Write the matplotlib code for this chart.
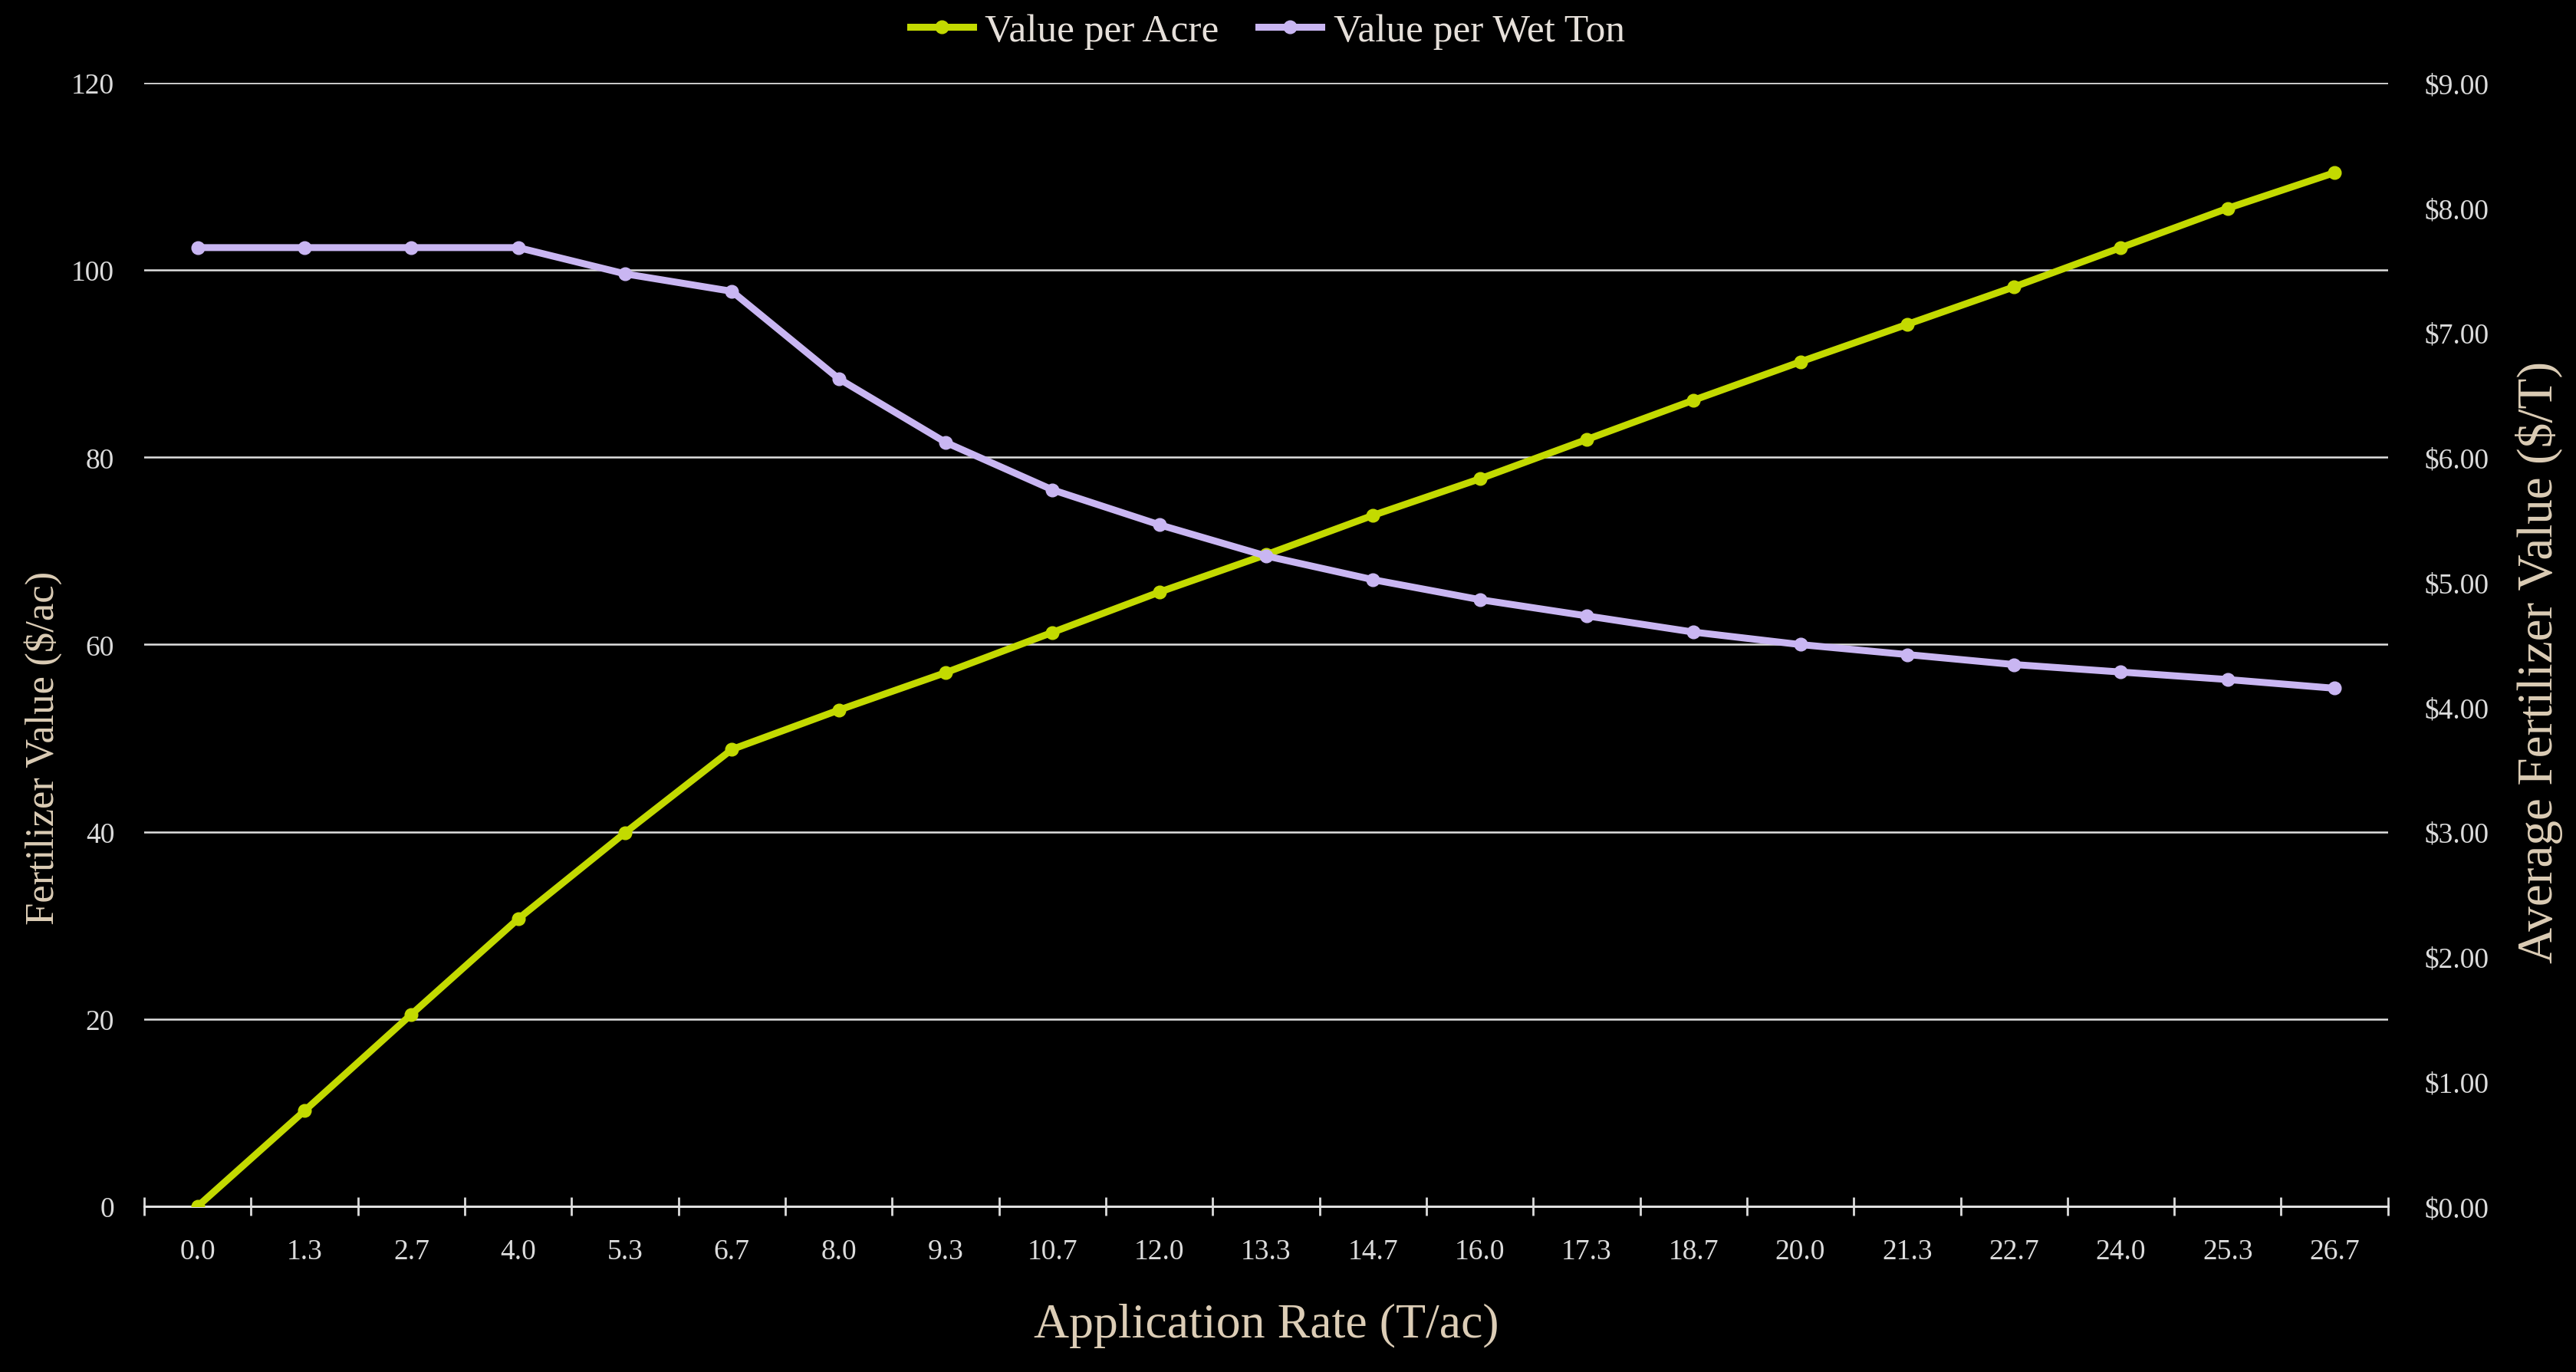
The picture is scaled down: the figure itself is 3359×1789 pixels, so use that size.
import matplotlib.pyplot as plt
import numpy as np

# application rate categories (T/ac)
rates = ['0.0', '1.3', '2.7', '4.0', '5.3', '6.7', '8.0', '9.3', '10.7', '12.0', '13.3',
         '14.7', '16.0', '17.3', '18.7', '20.0', '21.3', '22.7', '24.0', '25.3', '26.7']
# fertilizer value per acre ($/ac), left axis
value_per_acre = [0, 10.2, 20.5, 30.7, 39.9, 48.8, 53.0, 57.0, 61.3, 65.6, 69.6,
                  73.8, 77.7, 81.9, 86.1, 90.2, 94.2, 98.2, 102.4, 106.6, 110.4]
# average value per wet ton ($/T), right axis
value_per_ton = [7.68, 7.68, 7.68, 7.68, 7.47, 7.33, 6.63, 6.12, 5.74, 5.46, 5.21,
                 5.02, 4.86, 4.73, 4.60, 4.50, 4.42, 4.34, 4.28, 4.22, 4.15]

left_ticks = [0, 20, 40, 60, 80, 100, 120]
right_ticks = [0, 1, 2, 3, 4, 5, 6, 7, 8, 9]

green = '#c3da00'
purple = '#c9b6f2'
tick_col = '#dcdcdc'
title_col = '#dccdb6'
grid_col = '#e0e0e0'
font = 'Liberation Serif'

fig = plt.figure(figsize=(33.59, 17.90), dpi=100, facecolor='black')
ax = fig.add_axes([0.056, 0.1207, 0.871, 0.8184])
ax.set_facecolor('black')
ax2 = ax.twinx()

x = np.arange(len(rates))
l1, = ax.plot(x, value_per_acre, color=green, lw=6.5, marker='o', ms=12,
              label='Value per Acre', zorder=3)
l2, = ax2.plot(x, value_per_ton, color=purple, lw=6.5, marker='o', ms=12,
               label='Value per Wet Ton', zorder=3)

ax.set_xlim(-0.5, len(rates) - 0.5)
ax.set_ylim(0, 120)
ax2.set_ylim(0, 9)

# x axis: labels at category centres, tick marks at category boundaries
ax.set_xticks(x)
ax.set_xticklabels(rates, family=font, fontsize=27, color=tick_col)
ax.tick_params(axis='x', which='major', length=0, pad=30)
ax.set_xticks(np.arange(-0.5, len(rates)), minor=True)
ax.tick_params(axis='x', which='minor', direction='inout', length=17, width=2,
               color=tick_col)

ax.set_yticks(left_ticks)
ax.set_yticklabels([str(v) for v in left_ticks], family=font, fontsize=27, color=tick_col)
ax.tick_params(axis='y', length=0, pad=28)
ax.yaxis.grid(True, color=grid_col, lw=1.8)
ax.set_axisbelow(True)

ax2.set_yticks(right_ticks)
ax2.set_yticklabels([f'${v:.2f}' for v in right_ticks], family=font, fontsize=27,
                    color=tick_col)
ax2.tick_params(axis='y', length=0, pad=34)

for a in (ax, ax2):
    for s in a.spines.values():
        s.set_visible(False)
ax.spines['bottom'].set_visible(True)
ax.spines['bottom'].set_color(grid_col)
ax.spines['bottom'].set_linewidth(2.2)

# axis titles
fig.text(0.4916, 0.018, 'Application Rate (T/ac)', family=font, fontsize=46,
         color=title_col, ha='center', va='bottom')
fig.text(0.0167, 1 - 975 / 1790, 'Fertilizer Value ($/ac)', family=font, fontsize=38,
         color=title_col, ha='center', va='center', rotation=90)
fig.text(0.9857, 1 - 863 / 1790, 'Average Fertilizer Value ($/T)', family=font,
         fontsize=47, color=title_col, ha='center', va='center', rotation=90)

leg = fig.legend(handles=[l1, l2], loc='center', bbox_to_anchor=(0.492, 0.977),
                 ncol=2, frameon=False, handlelength=1.6, columnspacing=1.0,
                 handletextpad=0.3, prop={'family': font, 'size': 37})
for t in leg.get_texts():
    t.set_color('#e6e0da')

fig.savefig('out.png', dpi=100, facecolor='black')
